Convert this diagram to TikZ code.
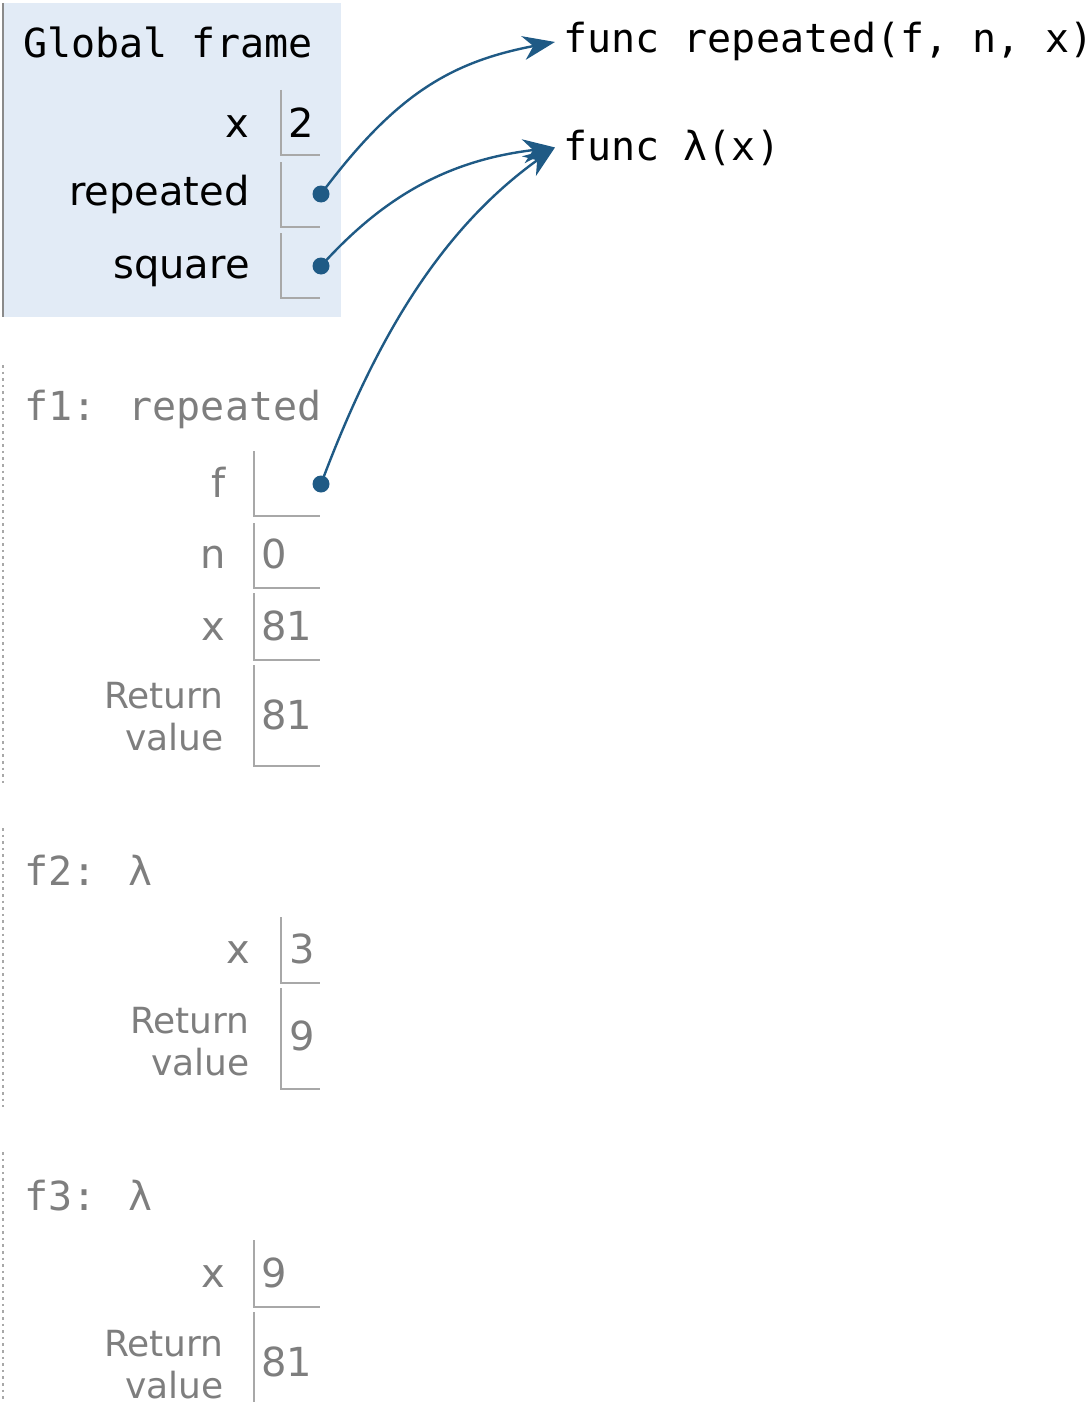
\documentclass[tikz,border=0pt]{standalone}
\usepackage{fontspec}
\setmainfont{DejaVu Sans}
\newfontfamily\codefont{DejaVu Sans Mono}
\usetikzlibrary{arrows.meta}

\definecolor{globalbg}{HTML}{E2EBF6}
\definecolor{globalrule}{HTML}{8A8A8A}
\definecolor{cellrule}{HTML}{A8A8A8}
\definecolor{dimtext}{HTML}{7E7E7E}
\definecolor{pointer}{HTML}{1F5A85}

\tikzset{
  hdr/.style={anchor=base west, inner sep=0pt, font=\codefont\fontsize{20}{24}\selectfont},
  objtext/.style={anchor=base west, inner sep=0pt, font=\codefont\fontsize{20}{24}\selectfont, text=black},
  varname/.style={anchor=base east, inner sep=0pt, font=\fontsize{20}{24}\selectfont},
  retname/.style={anchor=base east, inner sep=0pt, font=\fontsize{18}{21}\selectfont},
  varval/.style={anchor=base west, inner sep=0pt, font=\fontsize{20}{24}\selectfont},
  cell/.style={draw=cellrule, line width=1pt},
  dotframe/.style={draw=cellrule, line width=1.3pt, dotted},
  ptrdot/.style={circle, fill=pointer, inner sep=0pt, minimum size=8.5pt},
  ptr/.style={draw=pointer, line width=1.2pt, -{Stealth[length=16pt, width=12pt, inset=5pt]}},
}

\begin{document}
\begin{tikzpicture}[x=0.5pt, y=-0.5pt]
\useasboundingbox (0,0) rectangle (1086,1402);

% ---- Global frame ----
\fill[globalbg] (3,3) rectangle (341,317);
\draw[globalrule, line width=1.4pt] (3,3) -- (3,317);
\node[hdr, text=black] (gtitle) at (23,58) {Global frame};

\node[varname, text=black] (gxn) at (250,137) {x};
\draw[cell] (281,90) |- (320,155);
\node[varval, text=black] (gxv) at (288,137) {2};

\node[varname, text=black] (grn) at (250,205) {repeated};
\draw[cell] (281,162) |- (320,227);
\node[ptrdot] (grd) at (321,194) {};

\node[varname, text=black] (gsn) at (250,278) {square};
\draw[cell] (281,233) |- (320,298);
\node[ptrdot] (gsd) at (321,266) {};

% ---- Function objects ----
\node[objtext] (frep) at (563,53) {func repeated(f, n, x)};
\node[objtext] (flam) at (563,160) {func λ(x)};

% ---- f1: repeated ----
\draw[dotframe] (3,365) -- (3,785);
\node[hdr, text=dimtext] (f1title) at (24,420) {f1: repeated};

\node[varname, text=dimtext] (f1fn) at (226,497) {f};
\draw[cell] (254,451) |- (320,516);
\node[ptrdot] (f1fd) at (321,484) {};

\node[varname, text=dimtext] (f1nn) at (226,568) {n};
\draw[cell] (254,523) |- (320,588);
\node[varval, text=dimtext] (f1nv) at (261,568) {0};

\node[varname, text=dimtext] (f1xn) at (226,640) {x};
\draw[cell] (254,593) |- (320,660);
\node[varval, text=dimtext] (f1xv) at (261,640) {81};

\node[retname, text=dimtext] (f1r1) at (224,708) {Return};
\node[retname, text=dimtext] (f1r2) at (224,750) {value};
\draw[cell] (254,665) |- (320,766);
\node[varval, text=dimtext] (f1rv) at (261,729) {81};

% ---- f2: lambda ----
\draw[dotframe] (3,828) -- (3,1107);
\node[hdr, text=dimtext] (f2title) at (24,885) {f2: λ};

\node[varname, text=dimtext] (f2xn) at (251,963) {x};
\draw[cell] (281,917) |- (320,983);
\node[varval, text=dimtext] (f2xv) at (289,963) {3};

\node[retname, text=dimtext] (f2r1) at (250,1033) {Return};
\node[retname, text=dimtext] (f2r2) at (250,1075) {value};
\draw[cell] (281,988) |- (320,1089);
\node[varval, text=dimtext] (f2rv) at (289,1050) {9};

% ---- f3: lambda ----
\draw[dotframe] (3,1152) -- (3,1402);
\node[hdr, text=dimtext] (f3title) at (24,1210) {f3: λ};

\node[varname, text=dimtext] (f3xn) at (226,1287) {x};
\draw[cell] (254,1240) |- (320,1307);
\node[varval, text=dimtext] (f3xv) at (261,1287) {9};

\node[retname, text=dimtext] (f3r1) at (224,1356) {Return};
\node[retname, text=dimtext] (f3r2) at (224,1398) {value};
\draw[cell] (254,1312) -- (254,1410);
\node[varval, text=dimtext] (f3rv) at (261,1376) {81};

% ---- Pointers ----
\draw[ptr] (grd.center) .. controls (395,95) and (450,62) .. ([xshift=-4pt]frep.west);
\draw[ptr] (gsd.center) .. controls (385,195) and (450,160) .. ([xshift=-4pt]flam.west);
\draw[ptr] (f1fd.center) .. controls (375,340) and (440,230) .. ([xshift=-4pt]flam.west);
\end{tikzpicture}
\end{document}
